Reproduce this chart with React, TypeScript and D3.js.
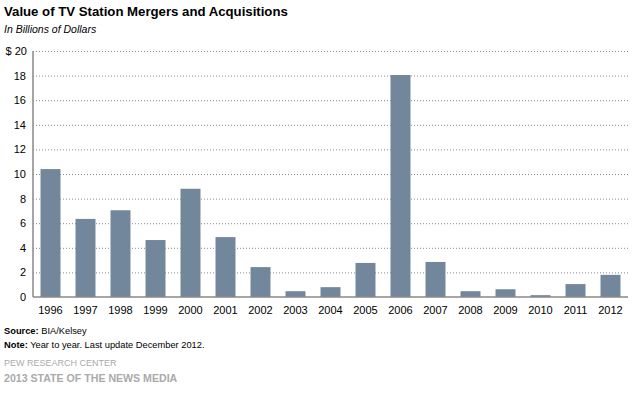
import React from "react";
import * as d3 from "d3";

const years = ["1996","1997","1998","1999","2000","2001","2002","2003","2004","2005","2006","2007","2008","2009","2010","2011","2012"];
const values = [10.4, 6.35, 7.05, 4.63, 8.8, 4.87, 2.43, 0.47, 0.8, 2.77, 18.05, 2.85, 0.47, 0.63, 0.15, 1.05, 1.8];
const yTicks = [0, 2, 4, 6, 8, 10, 12, 14, 16, 18, 20];

const W = 633, H = 393;
const left = 33, right = 628, top = 51, bottom = 297;
const font = "Arial, 'Liberation Sans', sans-serif";

export default function App() {
  const x = d3.scaleBand<string>().domain(years).range([left, right]).paddingInner(0.43).paddingOuter(0.215);
  const y = d3.scaleLinear().domain([0, 20]).range([bottom, top]);
  return (
    <svg width={W} height={H} style={{ position: "absolute", left: 0, top: 0, background: "#fff" }} fontFamily={font}>
      <text x={4} y={16} fontSize={13.2} fontWeight="bold" fill="#000">Value of TV Station Mergers and Acquisitions</text>
      <text x={4} y={33} fontSize={10.5} fontStyle="italic" fill="#000">In Billions of Dollars</text>
      {yTicks.filter(t => t > 0).map(t => (
        <line key={"g" + t} x1={left} x2={right} y1={y(t) + 0.5} y2={y(t) + 0.5} stroke="#888" strokeDasharray="1,2" strokeWidth={1} />
      ))}
      {years.map((yr, i) => (
        <rect key={yr} x={x(yr)} y={y(values[i])} width={x.bandwidth()} height={y(0) - y(values[i])} fill="#72869C" />
      ))}
      <line x1={left} x2={left} y1={top} y2={bottom} stroke="#888" strokeWidth={1.5} />
      <line x1={left} x2={right} y1={bottom} y2={bottom} stroke="#888" strokeWidth={1.5} />
      {yTicks.map(t => (
        <text key={"t" + t} x={t === 20 ? 27 : 26} y={y(t) + 4} fontSize={11} textAnchor="end" fill="#000">{t === 20 ? "$ 20" : t}</text>
      ))}
      {years.map(yr => (
        <text key={"x" + yr} x={(x(yr) as number) + x.bandwidth() / 2} y={bottom + 17} fontSize={11} textAnchor="middle" fill="#000">{yr}</text>
      ))}
      <text x={4} y={334} fontSize={9.3} fill="#000"><tspan fontWeight="bold">Source:</tspan> BIA/Kelsey</text>
      <text x={4} y={348} fontSize={9.3} fill="#000"><tspan fontWeight="bold">Note:</tspan> Year to year. Last update December 2012.</text>
      <text x={4} y={366} fontSize={9} fill="#aaa">PEW RESEARCH CENTER</text>
      <text x={4} y={382} fontSize={10.6} fontWeight="bold" fill="#aaa">2013 STATE OF THE NEWS MEDIA</text>
    </svg>
  );
}
